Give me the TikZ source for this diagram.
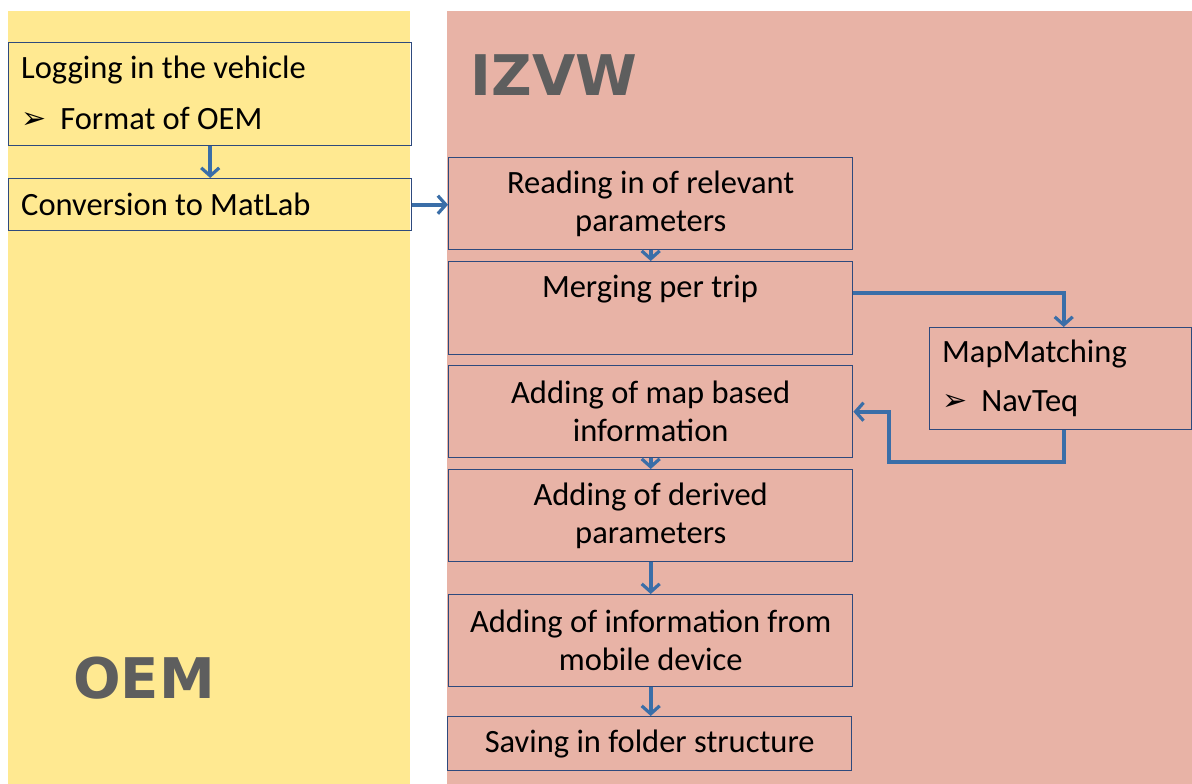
\documentclass[tikz,border=0pt]{standalone}
\usepackage{fontspec}
\setmainfont{Carlito}
\newfontfamily\bulfont{DejaVu Sans}
\newfontfamily\labfont{DejaVu Sans}
\usetikzlibrary{arrows.meta}
\definecolor{oemyellow}{HTML}{FFE991}
\definecolor{izvwpink}{HTML}{E8B3A6}
\definecolor{boxline}{HTML}{2E4A7D}
\definecolor{arrowblue}{HTML}{3A6EA8}
\definecolor{labgrey}{HTML}{5E5E5E}
\tikzset{
  box/.style={draw=boxline, line width=1.4pt, rectangle, inner sep=0pt, anchor=north west},
  txt/.style={font=\fontsize{32.5}{38}\selectfont, align=center, inner sep=0pt, text=black},
  ltxt/.style={font=\fontsize{32.5}{38}\selectfont, align=left, inner sep=0pt, anchor=west, text=black},
  arr/.style={draw=arrowblue, line width=3.6pt, -{Straight Barb[length=8pt,width=18pt,line width=3.2pt]}},
  lab/.style={font=\labfont\bfseries\fontsize{56}{60}\selectfont, text=labgrey, inner sep=0pt}
}
\newcommand{\bulmark}{{\bulfont\fontsize{30}{30}\selectfont\raisebox{1pt}{➢}}}
\begin{document}
\begin{tikzpicture}[x=1pt,y=-1pt]
\useasboundingbox (0,0) rectangle (1192,784);
\fill[white] (0,0) rectangle (1192,784);
% bands
\fill[oemyellow] (8,11) rectangle (410,784);
\fill[izvwpink] (447,11) rectangle (1192,784);
\node[lab] (lizvw) at (554,75) {IZVW};
\node[lab] (loem) at (144,678) {OEM};
% OEM boxes
\node[box, minimum width=403pt, minimum height=103pt] (b1) at (8,42) {};
\node[ltxt] (t1a) at (21,70) {Logging in the vehicle};
\node[ltxt] (t1b) at (21,118) {\bulmark\hspace{14pt}Format of OEM};
\node[box, minimum width=403pt, minimum height=52pt] (b2) at (8,178) {};
\node[ltxt] (t2) at (21,204) {Conversion to MatLab};
% IZVW boxes
\node[box, minimum width=404pt, minimum height=92pt] (b3) at (448,157) {};
\node[txt] (t3) at (b3) {Reading in of relevant\\parameters};
\node[box, minimum width=404pt, minimum height=93pt] (b4) at (448,261) {};
\node[txt] (t4) at (650,289) {Merging per trip};
\node[box, minimum width=404pt, minimum height=92pt] (b5) at (448,365) {};
\node[txt] (t5) at (b5) {Adding of map based\\information};
\node[box, minimum width=404pt, minimum height=92pt] (b6) at (448,469) {};
\node[txt] (t6) at (b6) {Adding of derived\\parameters};
\node[box, minimum width=404pt, minimum height=92pt] (b7) at (448,594) {};
\node[txt] (t7) at (b7) {Adding of information from\\mobile device};
\node[box, minimum width=404pt, minimum height=54pt] (b8) at (447,716) {};
\node[txt] (t8) at (b8) {Saving in folder structure};
\node[box, minimum width=262pt, minimum height=102pt] (mm) at (929,327) {};
\node[ltxt] (tm1) at (942,354) {MapMatching};
\node[ltxt] (tm2) at (942,404) {\bulmark\hspace{14pt}NavTeq};
% connectors
\coordinate (c1) at (889,462);
\draw[arr] (b1.south) -- (b2.north);
\draw[arr] (b2.east) -- (b2.east -| b3.west);
\draw[arr] (b3.south) -- (b4.north);
\draw[arr] ([yshift=15pt]b4.east) -| ([xshift=3pt]mm.north);
\draw[arr] ([xshift=3pt]mm.south) |- (c1) |- (b5.east);
\draw[arr] (b5.south) -- (b6.north);
\draw[arr] (b6.south) -- (b7.north);
\draw[arr] (b7.south) -- (b7.south |- b8.north);
\end{tikzpicture}
\end{document}
